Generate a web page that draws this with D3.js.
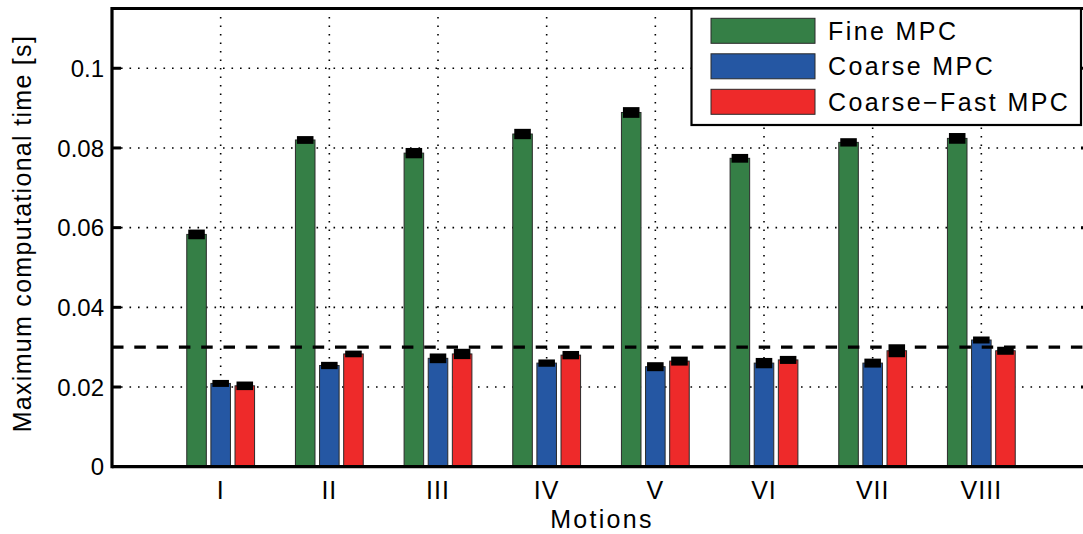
<!DOCTYPE html>
<html>
<head>
<meta charset="utf-8">
<script src="https://cdn.jsdelivr.net/npm/d3@7/dist/d3.min.js"></script>
<style>
  html, body { margin: 0; padding: 0; background: #fff; }
  svg { display: block; overflow: hidden; }
  text { font-family: "Liberation Sans", Arial, Helvetica, sans-serif; fill: #000; }
</style>
</head>
<body>
<svg id="chart" width="1083" height="534"></svg>
<script>
// Motion cases on the x axis
const categories = ["I", "II", "III", "IV", "V", "VI", "VII", "VIII"];

// Controller variants
const seriesNames = ["Fine MPC", "Coarse MPC", "Coarse\u2212Fast MPC"];
const seriesColors = ["#357f46", "#2557a3", "#ee2a2a"];

// Maximum computational time per motion [s]
const fineMPC       = [0.0583, 0.0820, 0.0787, 0.0835, 0.0889, 0.0774, 0.0814, 0.0824];
const coarseMPC     = [0.0209, 0.0254, 0.0272, 0.0260, 0.0251, 0.0260, 0.0260, 0.0318];
const coarseFastMPC = [0.0203, 0.0283, 0.0283, 0.0280, 0.0265, 0.0268, 0.0291, 0.0291];

// Error-bar half widths [s]
const fineErr       = [0.00084, 0.00060, 0.00092, 0.00092, 0.00097, 0.00072, 0.00067, 0.00097];
const coarseErr     = [0.00050, 0.00054, 0.00084, 0.00054, 0.00075, 0.00092, 0.00075, 0.00050];
const coarseFastErr = [0.00070, 0.00046, 0.00092, 0.00067, 0.00075, 0.00063, 0.00125, 0.00063];

// Real-time limit [s]
const threshold = 0.03;

// Axis ticks
const yTicks = [0, 0.02, 0.04, 0.06, 0.08, 0.1];
const yTickLabels = ["0", "0.02", "0.04", "0.06", "0.08", "0.1"];
const yMax = 0.115;

const xTitle = "Motions";
const yTitle = "Maximum computational time [s]";

const values = [fineMPC, coarseMPC, coarseFastMPC];
const errors = [fineErr, coarseErr, coarseFastErr];

const svg = d3.select("#chart");
const W = 1083, H = 534;
const plot = { left: 112, right: 1090, top: 8.5, bottom: 466.7 };

const x = d3.scaleLinear().domain([0, categories.length + 1]).range([plot.left, plot.right]);
const y = d3.scaleLinear().domain([0, yMax]).range([plot.bottom, plot.top]);

const groupStep = 0.222;   // distance between bars in a group (x units)
const barW = 0.18;         // bar width (x units)
const offsets = [-1, 0, 1];

svg.append("rect").attr("width", W).attr("height", H).attr("fill", "#fff");

// dotted grid
const grid = svg.append("g")
  .attr("stroke", "#000")
  .attr("stroke-width", 1.6)
  .attr("stroke-dasharray", "1.6,6.9")
  .attr("fill", "none");
grid.selectAll("line.h")
  .data(yTicks.filter(d => d > 0))
  .join("line")
  .attr("class", "h")
  .attr("x1", plot.left + 9).attr("x2", plot.right)
  .attr("y1", d => y(d)).attr("y2", d => y(d));
grid.selectAll("line.v")
  .data(categories)
  .join("line")
  .attr("class", "v")
  .attr("x1", (d, i) => x(i + 1)).attr("x2", (d, i) => x(i + 1))
  .attr("y1", plot.top).attr("y2", plot.bottom);

// bars
const barsG = svg.append("g");
values.forEach((vals, s) => {
  barsG.selectAll(null)
    .data(vals)
    .join("rect")
    .attr("x", (d, i) => x(i + 1 + offsets[s] * groupStep - barW / 2))
    .attr("width", x(barW) - x(0))
    .attr("y", d => y(d))
    .attr("height", d => y(0) - y(d))
    .attr("fill", seriesColors[s])
    .attr("stroke", "#2a2a2a")
    .attr("stroke-width", 1);
});

// error bars drawn as thick caps around each bar top
values.forEach((vals, s) => {
  barsG.selectAll(null)
    .data(vals)
    .join("rect")
    .attr("x", (d, i) => x(i + 1 + offsets[s] * groupStep - barW / 2) + 1.5)
    .attr("width", x(barW) - x(0) - 3)
    .attr("y", (d, i) => y(d + errors[s][i]) - 1.5)
    .attr("height", (d, i) => y(d - errors[s][i]) - y(d + errors[s][i]) + 3)
    .attr("fill", "#000");
});

// threshold line
svg.append("line")
  .attr("x1", plot.left).attr("x2", plot.right)
  .attr("y1", y(threshold)).attr("y2", y(threshold))
  .attr("stroke", "#000")
  .attr("stroke-width", 3.2)
  .attr("stroke-dasharray", "11.5,10.8");

// axes box
const axisG = svg.append("g");
axisG.append("line")
  .attr("x1", plot.left).attr("x2", plot.right)
  .attr("y1", plot.bottom).attr("y2", plot.bottom)
  .attr("stroke", "#000").attr("stroke-width", 3.2);
axisG.append("line")
  .attr("x1", plot.left).attr("x2", plot.right)
  .attr("y1", plot.top).attr("y2", plot.top)
  .attr("stroke", "#000").attr("stroke-width", 3);
axisG.append("line")
  .attr("x1", plot.left).attr("x2", plot.left)
  .attr("y1", plot.top - 1.5).attr("y2", plot.bottom + 1.6)
  .attr("stroke", "#000").attr("stroke-width", 3.2);
axisG.append("line")
  .attr("x1", plot.right).attr("x2", plot.right)
  .attr("y1", plot.top - 1.5).attr("y2", plot.bottom + 1.6)
  .attr("stroke", "#000").attr("stroke-width", 3.2);

// y ticks (inward, on both sides)
axisG.selectAll("line.yt")
  .data(yTicks.filter(d => d > 0))
  .join("line")
  .attr("x1", plot.left).attr("x2", plot.left + 9)
  .attr("y1", d => y(d)).attr("y2", d => y(d))
  .attr("stroke", "#000").attr("stroke-width", 3);
axisG.selectAll("line.yt2")
  .data(yTicks.filter(d => d > 0))
  .join("line")
  .attr("x1", plot.right - 9).attr("x2", plot.right)
  .attr("y1", d => y(d)).attr("y2", d => y(d))
  .attr("stroke", "#000").attr("stroke-width", 3);

// y tick labels
const tickFont = 24;
svg.append("g").selectAll("text")
  .data(yTicks)
  .join("text")
  .attr("x", 104)
  .attr("y", d => y(d) + tickFont * 0.36)
  .attr("text-anchor", "end")
  .attr("font-size", tickFont)
  .text((d, i) => yTickLabels[i]);

// x tick labels
svg.append("g").selectAll("text")
  .data(categories)
  .join("text")
  .attr("x", (d, i) => x(i + 1))
  .attr("y", 499)
  .attr("text-anchor", "middle")
  .attr("font-size", 25)
  .attr("letter-spacing", 1)
  .text(d => d);

// axis titles
svg.append("text")
  .attr("x", x(4.5) + 1)
  .attr("y", 528)
  .attr("text-anchor", "middle")
  .attr("font-size", 25)
  .attr("letter-spacing", 2.3)
  .text(xTitle);

svg.append("text")
  .attr("transform", `translate(31, ${(plot.top + plot.bottom) / 2 - 4}) rotate(-90)`)
  .attr("text-anchor", "middle")
  .attr("font-size", 25)
  .attr("letter-spacing", 1.3)
  .text(yTitle);

// legend
const lg = svg.append("g");
lg.append("rect")
  .attr("x", 691.5).attr("y", plot.top)
  .attr("width", 1081 - 691.5).attr("height", 125 - plot.top)
  .attr("fill", "#fff")
  .attr("stroke", "#000").attr("stroke-width", 2.2);
seriesNames.forEach((name, s) => {
  const cy = 30.8 + s * 35.5;
  lg.append("rect")
    .attr("x", 711).attr("y", cy - 12.5)
    .attr("width", 104).attr("height", 25)
    .attr("fill", seriesColors[s])
    .attr("stroke", "#2a2a2a").attr("stroke-width", 1);
  lg.append("text")
    .attr("x", 828).attr("y", cy + 9)
    .attr("font-size", 25)
    .attr("letter-spacing", 2.4)
    .text(name);
});
</script>
</body>
</html>
